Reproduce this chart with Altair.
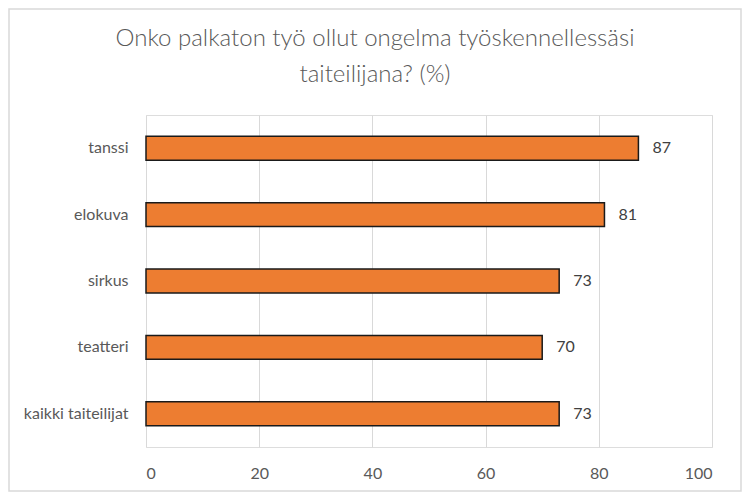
import altair as alt
import pandas as pd

categories = ["tanssi", "elokuva", "sirkus", "teatteri", "kaikki taiteilijat"]
values = [87, 81, 73, 70, 73]
x_ticks = [0, 20, 40, 60, 80, 100]
title_lines = ["Onko palkaton työ ollut ongelma työskennellessäsi", "taiteilijana? (%)"]

df = pd.DataFrame({"kategoria": categories, "arvo": values})
one = pd.DataFrame({"k": [0]})

W, H = 566, 332
PAD = {"left": 138, "top": 107, "right": 30, "bottom": 45}

y_enc = alt.Y("kategoria:N", sort=categories,
              scale=alt.Scale(paddingInner=0.64, paddingOuter=0.32),
              axis=alt.Axis(title=None, domain=False, ticks=False, grid=False,
                            labelFontSize=16, labelColor="#595959", labelPadding=18,
                            labelFont="Lato"))
x_enc = alt.X("arvo:Q", scale=alt.Scale(domain=[0, 100], nice=False),
              axis=alt.Axis(title=None, values=x_ticks, domain=False, ticks=False,
                            grid=True, gridColor="#d9d9d9", gridWidth=1,
                            labelFontSize=16, labelColor="#595959", labelPadding=18,
                            labelFont="Lato"))

frame = alt.Chart(one).mark_rect(fill="white", fillOpacity=0, stroke="#d9d9d9",
                                 strokeWidth=1.5).encode(
    x=alt.value(-PAD["left"] + 1), x2=alt.value(W + PAD["right"] - 1),
    y=alt.value(-PAD["top"] + 1), y2=alt.value(H + PAD["bottom"] - 1))

bars = alt.Chart(df).mark_bar(color="#ED7D31", stroke="#1a1a1a", strokeWidth=1.5).encode(
    x=x_enc, y=y_enc)

labels = alt.Chart(df).mark_text(align="left", baseline="middle", dx=14,
                                 fontSize=16, color="#404040", font="Lato").encode(
    x="arvo:Q", y=alt.Y("kategoria:N", sort=categories), text="arvo:Q")

title_style = dict(align="center", baseline="alphabetic", font="Lato", fontSize=24,
                   fontWeight=300, color="#595959")
t1 = alt.Chart(one).mark_text(**title_style).encode(
    x=alt.value(375 - 146), y=alt.value(-69), text=alt.value(title_lines[0]))
t2 = alt.Chart(one).mark_text(**title_style).encode(
    x=alt.value(375 - 146), y=alt.value(-33), text=alt.value(title_lines[1]))

chart = alt.layer(frame, bars, labels, t1, t2).properties(
    width=W, height=H,
    padding=PAD,
    autosize=alt.AutoSizeParams(type="none"),
).configure_view(stroke=None).configure(background="white")

chart.save("out.html", embed_options={"renderer": "svg", "actions": False})
